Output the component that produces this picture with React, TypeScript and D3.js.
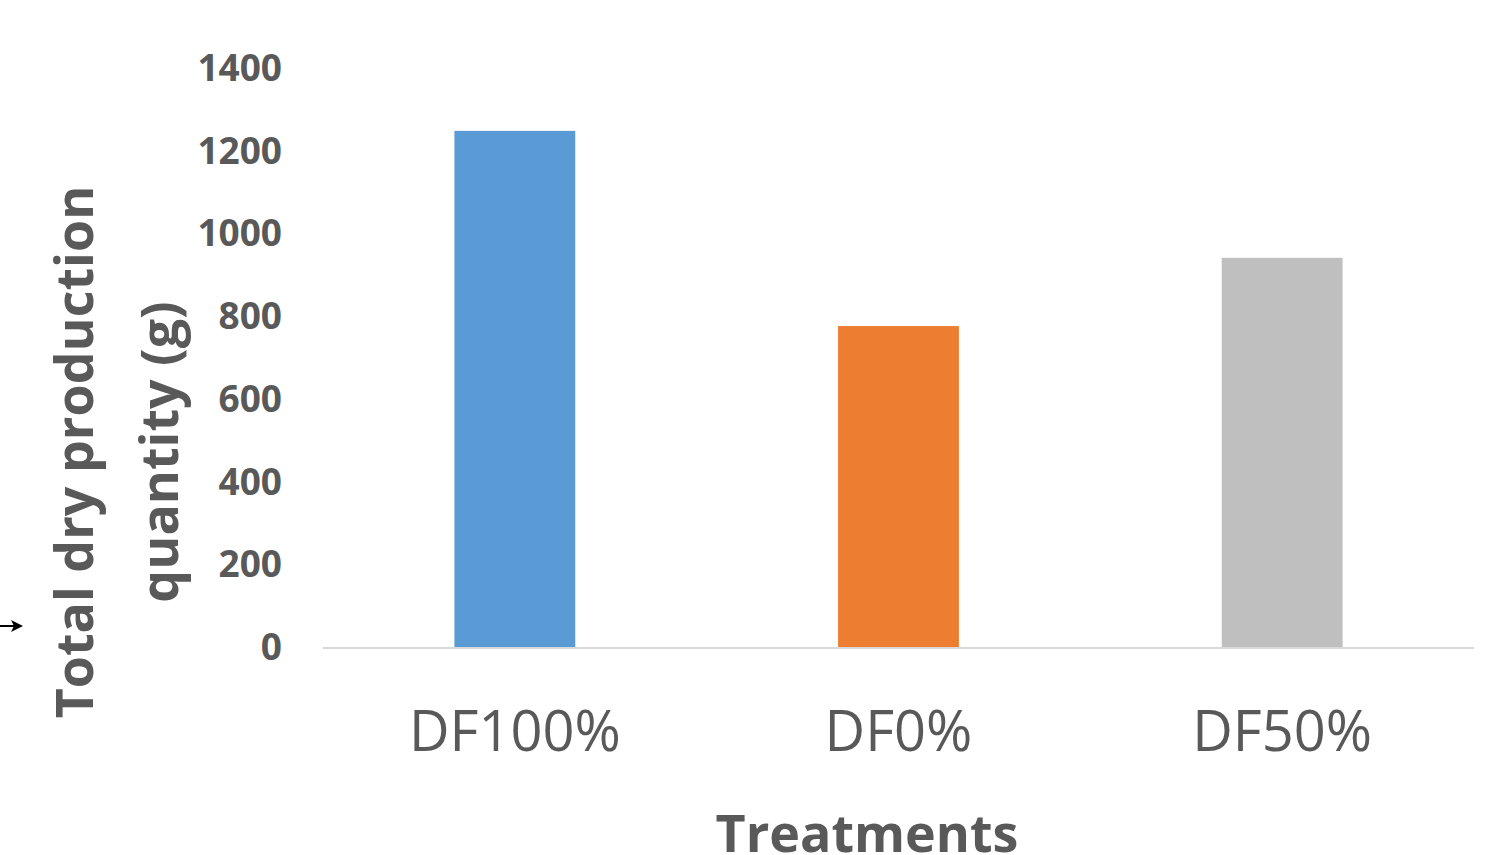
import React from "react";
import * as d3 from "d3";

const categories = ["DF100%", "DF0%", "DF50%"];
const values = [1248, 776, 941];
const colors = ["#5B9BD5", "#ED7D31", "#BFBFBF"];
const yTicks = [0, 200, 400, 600, 800, 1000, 1200, 1400];
const yTitleLines = ["Total dry production", "quantity (g)"];
const xTitle = "Treatments";

export default function App() {
  const W = 1487, H = 855;
  const x = d3.scaleBand<string>().domain(categories).range([323, 1474]).paddingInner(0.685).paddingOuter(0.3425);
  const y = d3.scaleLinear().domain([0, 1400]).range([647, 68]);
  const font = "'Open Sans', sans-serif";
  const grey = "#595959";
  return (
    <svg width={W} height={H} style={{ position: "absolute", left: 0, top: 0, background: "#fff" }}>
      {categories.map((c, i) => (
        <rect key={c} x={x(c)} width={x.bandwidth()} y={y(values[i])} height={y(0) - y(values[i])} fill={colors[i]} />
      ))}
      <line x1={323} x2={1474} y1={y(0) + 1} y2={y(0) + 1} stroke="#D9D9D9" strokeWidth={2} />
      {yTicks.map((t) => (
        <text key={t} x={282} y={y(t)} dy="0.35em" textAnchor="end" fontFamily={font} fontWeight={700} fontSize={37} fill={grey}>{t}</text>
      ))}
      {categories.map((c) => (
        <text key={c} x={(x(c) as number) + x.bandwidth() / 2} y={751} textAnchor="middle" fontFamily={font} fontSize={56} fill={grey}>{c}</text>
      ))}
      <text x={867} y={852} textAnchor="middle" fontFamily={font} fontWeight={700} fontSize={52} fill={grey}>{xTitle}</text>
      {yTitleLines.map((l, i) => (
        <text key={l} transform={`translate(${93 + i * 85},452) rotate(-90)`} textAnchor="middle" fontFamily={font} fontWeight={700} fontSize={52} fill={grey}>{l}</text>
      ))}
      <line x1={0} x2={18} y1={626} y2={626} stroke="#000" strokeWidth={2} />
      <path d="M11,620 L23,626 L11,632 L14,626 Z" fill="#000" />
    </svg>
  );
}
